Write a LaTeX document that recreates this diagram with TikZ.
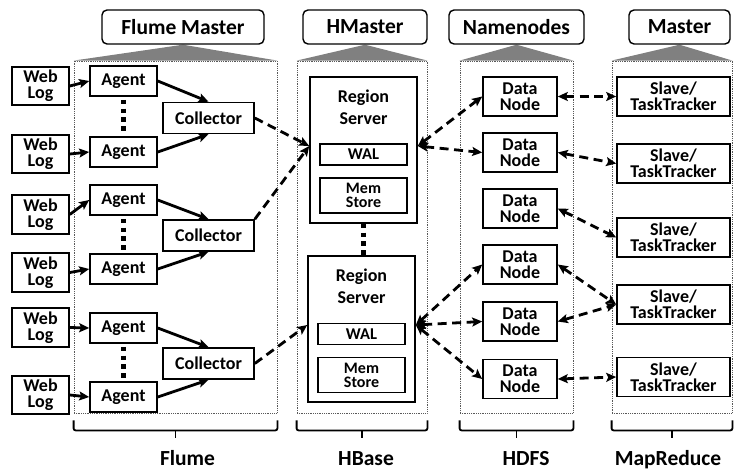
\documentclass[tikz,border=0pt]{standalone}
\usepackage{fontspec}
\setmainfont{Carlito}
\usepackage{tikz}
\usetikzlibrary{arrows.meta,calc,backgrounds}
\tikzset{
	unit/.style={draw, line width=1.6pt, inner sep=0pt, align=center, font=\fontsize{18}{16}\selectfont\bfseries},
	inner/.style={draw, line width=1.5pt, inner sep=0pt, align=center, minimum width=87pt},
	rstext/.style={inner sep=0pt, align=center, font=\fontsize{18}{22}\selectfont\bfseries},
	hdr/.style={draw, rounded corners=5pt, line width=1.4pt, minimum height=34pt, inner sep=0pt, font=\fontsize{21.5}{24}\selectfont\bfseries},
	col/.style={draw=black!65, densely dotted, line width=0.8pt, minimum height=352pt},
	flow/.style={-{Stealth[length=10pt,width=9pt,inset=2pt]}, line width=2.8pt},
	feed/.style={flow, dash pattern=on 9pt off 5.5pt},
	link/.style={{Stealth[length=10pt,width=9pt,inset=2pt]}-{Stealth[length=10pt,width=9pt,inset=2pt]}, line width=2.8pt, dash pattern=on 9pt off 5.5pt},
	vdots/.style={line width=4.5pt, dash pattern=on 4.5pt off 4.3pt},
	brace/.style={line width=1.8pt, rounded corners=2pt},
	tag/.style={anchor=base, inner sep=0pt, font=\fontsize{21.5}{24}\selectfont\bfseries}
}
\begin{document}
\begin{tikzpicture}[x=1pt,y=-1pt]
\useasboundingbox (0,0) rectangle (734,469);

\node[hdr, minimum width=162pt] (flumem) at (183,27) {Flume Master};
\node[hdr, minimum width=124pt] (hmaster) at (365,27) {HMaster};
\node[hdr, minimum width=135pt] (namenodes) at (516.5,27) {Namenodes};
\node[hdr, minimum width=101pt] (master) at (679.5,27) {Master};

\node[col, minimum width=203pt] (flume) at (175.5,237) {};
\node[col, minimum width=130pt] (hbase) at (362,237) {};
\node[col, minimum width=113pt] (hdfs) at (516.5,237) {};
\node[col, minimum width=120pt] (mapred) at (672,237) {};

\begin{scope}[on background layer]
\foreach \m/\c in {flumem/flume,hmaster/hbase,namenodes/hdfs,master/mapred}
	\fill[black!50] (\m.south) -- (\c.north west) -- (\c.north east) -- cycle;
\end{scope}

% Flume
\foreach \i/\y in {1/86,2/154,3/214.5,4/272.5,5/327.5,6/395}
	\node[unit, minimum width=57pt, minimum height=38.5pt] (log\i) at (40.5,\y) {Web\\Log};
\foreach \i/\y in {1/81,2/152,3/200,4/269,5/328,6/397}
	\node[unit, minimum width=67pt, minimum height=30pt] (ag\i) at (123.5,\y) {Agent};
\foreach \i/\y in {1/118,2/235.5,3/363.5}
	\node[unit, minimum width=91pt, minimum height=31pt] (coll\i) at (208.5,\y) {Collector};

\foreach \i in {1,...,6}
	\draw[flow] (log\i.east) -- (ag\i.west);
\foreach \i/\a/\b in {1/1/2,2/3/4,3/5/6}{
	\draw[flow] (ag\a.east) -- (coll\i.north);
	\draw[flow] (ag\b.east) -- (coll\i.south);
	\draw[vdots] ($(ag\a.south)+(0,3)$) -- ++(0,31);
}

% HBase
\node[unit, minimum width=107pt, minimum height=146pt] (rs1) at (363.5,150) {};
\node[unit, minimum width=107pt, minimum height=146pt] (rs2) at (361.5,329) {};
\foreach \r in {1,2}{
	\node[rstext] (rs\r t) at ($(rs\r.north)+(0,31.5)$) {Region\\Server};
	\coordinate (rs\r in) at ($(rs\r.west)+(0,-4)$);
	\coordinate (rs\r out) at ($(rs\r.east)+(0,-4)$);
}
\node[inner, minimum height=21pt, font=\fontsize{16.5}{15}\selectfont\bfseries] (wal1) at (363.5,154.5) {WAL};
\node[inner, minimum height=35pt, font=\fontsize{16}{14}\selectfont\bfseries] (mem1) at (363.5,195.5) {Mem\\Store};
\node[inner, minimum height=21pt, font=\fontsize{16.5}{15}\selectfont\bfseries] (wal2) at (361.5,334) {WAL};
\node[inner, minimum height=35pt, font=\fontsize{16}{14}\selectfont\bfseries] (mem2) at (361.5,375) {Mem\\Store};
\draw[vdots] (rs1.south) -- ++(0,31);

\draw[feed] (coll1.east) -- (rs1in);
\draw[feed] (coll2.north east) -- (rs1in);
\draw[feed] (coll3.east) -- (rs2in);

% HDFS and MapReduce
\foreach \i/\y in {1/96.5,2/152.5,3/208.5,4/264.5,5/321.5,6/379}
	\node[unit, minimum width=74pt, minimum height=39pt] (dn\i) at (520,\y) {Data\\Node};
\foreach \i/\y in {1/96.5,2/163.5,3/237.5,4/304.5,5/377}
	\node[unit, minimum width=113pt, minimum height=39pt] (tt\i) at (673.5,\y) {Slave/\\TaskTracker};

\foreach \d in {1,2}
	\draw[link] (rs1out) -- (dn\d.west);
\foreach \d in {4,5,6}
	\draw[link] (rs2out) -- (dn\d.west);
\foreach \d/\t in {1/1,2/2,3/3,4/4,5/4,6/5}
	\draw[link] (dn\d.east) -- (tt\t.west);

% groups
\foreach \c in {flume,hbase,hdfs,mapred}{
	\draw[brace] ($(\c.south west)+(0,7)$) -- ++(0,10) -- ($(\c.south east)+(0,17)$) -- ++(0,-10);
	\draw[brace] ($(\c.south)+(0,17)$) -- ++(0,8);
}
\node[tag] (flumetag) at (187.5,465) {Flume};
\node[tag] (hbasetag) at (366,465) {HBase};
\node[tag] (hdfstag) at (526,465) {HDFS};
\node[tag] (mapredtag) at (668,465) {MapReduce};
\end{tikzpicture}
\end{document}
